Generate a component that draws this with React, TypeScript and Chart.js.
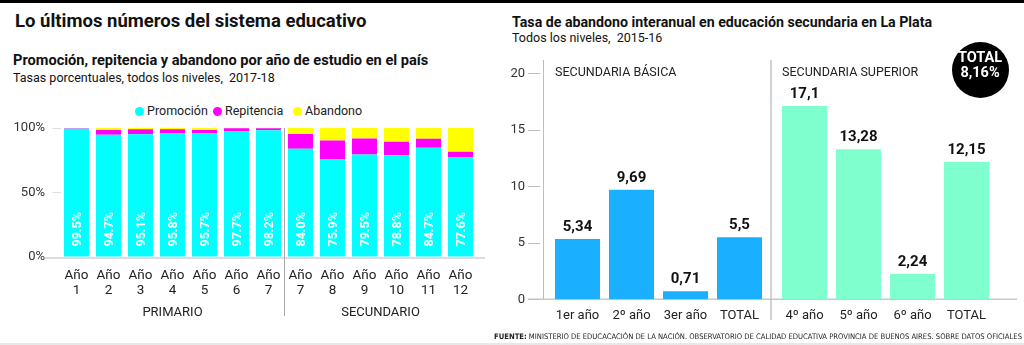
import React, { useEffect, useRef } from 'react';
import { Chart, registerables } from 'chart.js';
Chart.register(...registerables);

const FONT = 'Roboto, "Open Sans", Arial, sans-serif';

// ---- Left chart data ----
const years = ['1', '2', '3', '4', '5', '6', '7', '7', '8', '9', '10', '11', '12'];
const promocion = [99.5, 94.7, 95.1, 95.8, 95.7, 97.7, 98.2, 84.0, 75.9, 79.5, 78.8, 84.7, 77.6];
const repitencia = [0.4, 3.8, 3.9, 3.2, 2.8, 2.2, 1.6, 11.3, 14.4, 12.4, 10.6, 7.0, 4.0];
const abandono = [0.1, 1.5, 1.0, 1.0, 1.5, 0.1, 0.2, 4.7, 9.7, 8.1, 10.6, 8.3, 18.4];
const seriesNames = ['Promoción', 'Repitencia', 'Abandono'];
const seriesColors = ['#00FFFF', '#FF00FF', '#FFFF00'];
const levelGroups = ['PRIMARIO', 'SECUNDARIO'];
const primarioCount = 7;

// ---- Right chart data ----
const basicaLabels = ['1er año', '2º año', '3er año', 'TOTAL'];
const basicaValues = [5.34, 9.69, 0.71, 5.5];
const superiorLabels = ['4º año', '5º año', '6º año', 'TOTAL'];
const superiorValues = [17.1, 13.28, 2.24, 12.15];
const groupTitles = ['SECUNDARIA BÁSICA', 'SECUNDARIA SUPERIOR'];
const totalLines = ['TOTAL', '8,16%'];

const fmtComma = (v: number) => String(v).replace('.', ',');

function LeftChart() {
  const ref = useRef<HTMLCanvasElement>(null);
  useEffect(() => {
    const overlay = {
      id: 'leftOverlay',
      beforeDatasetsDraw(chart: any) {
        const { ctx, scales } = chart;
        const y0 = scales.y.getPixelForValue(0);
        ctx.save();
        ctx.strokeStyle = '#dcdcdc';
        ctx.lineWidth = 2;
        ctx.beginPath();
        ctx.moveTo(45, y0 + 1);
        ctx.lineTo(485, y0 + 1);
        ctx.stroke();
        ctx.restore();
      },
      afterDatasetsDraw(chart: any) {
        const { ctx, scales } = chart;
        const x = scales.x;
        const y = scales.y;
        const meta = chart.getDatasetMeta(0);
        ctx.save();
        ctx.fillStyle = '#ffffff';
        ctx.font = `bold 12.5px ${FONT}`;
        ctx.textAlign = 'left';
        ctx.textBaseline = 'middle';
        meta.data.forEach((el: any, i: number) => {
          ctx.save();
          ctx.translate(el.x + 1, el.base - 10);
          ctx.rotate(-Math.PI / 2);
          ctx.fillText(promocion[i].toFixed(1) + '%', 0, 0);
          ctx.restore();
        });
        const sx = (x.getPixelForValue(primarioCount - 1) + x.getPixelForValue(primarioCount)) / 2;
        ctx.strokeStyle = '#a8a8a8';
        ctx.lineWidth = 1;
        ctx.beginPath();
        ctx.moveTo(sx, y.getPixelForValue(100));
        ctx.lineTo(sx, 316);
        ctx.stroke();
        ctx.fillStyle = '#222';
        ctx.font = `13px ${FONT}`;
        ctx.textAlign = 'center';
        const c1 = (x.getPixelForValue(0) + x.getPixelForValue(primarioCount - 1)) / 2;
        const c2 = (x.getPixelForValue(primarioCount) + x.getPixelForValue(years.length - 1)) / 2;
        ctx.fillText(levelGroups[0], c1, 313);
        ctx.fillText(levelGroups[1], c2, 313);
        ctx.restore();
      },
    };
    const chart = new Chart(ref.current as HTMLCanvasElement, {
      type: 'bar',
      data: {
        labels: years.map((y) => ['Año', y]),
        datasets: [promocion, repitencia, abandono].map((d, i) => ({
          label: seriesNames[i],
          data: d,
          backgroundColor: seriesColors[i],
          borderWidth: 0,
          barPercentage: 25 / 32,
          categoryPercentage: 1,
        })),
      },
      options: {
        animation: false,
        responsive: false,
        maintainAspectRatio: false,
        layout: { padding: { left: 0, right: 13.5, top: 128, bottom: 28 } },
        plugins: { legend: { display: false }, tooltip: { enabled: false } },
        scales: {
          x: {
            stacked: true,
            grid: { display: false, drawTicks: false },
            border: { display: false },
            ticks: {
              font: { family: FONT, size: 13.5, lineHeight: 1.1 },
              color: '#222',
              padding: 11,
              maxRotation: 0,
              autoSkip: false,
            },
            afterFit: (s: any) => {
              s.height = 60;
            },
          },
          y: {
            stacked: true,
            min: 0,
            max: 100,
            ticks: {
              stepSize: 50,
              callback: (v: any) => v + '%',
              font: { family: FONT, size: 13 },
              color: '#333',
              padding: 7.5,
            },
            grid: { display: true, drawOnChartArea: false, tickLength: 8, color: '#dddddd' },
            border: { display: false },
            afterFit: (s: any) => {
              s.width = 60.5;
            },
          },
        },
      },
      plugins: [overlay],
    } as any);
    return () => chart.destroy();
  }, []);
  return <canvas ref={ref} width={490} height={345} style={{ position: 'absolute', left: 0, top: 0 }} />;
}

function RightChart(props: {
  labels: string[];
  values: number[];
  color: string;
  first: boolean;
  title: string;
  left: number;
  width: number;
}) {
  const ref = useRef<HTMLCanvasElement>(null);
  const { labels, values, color, first, title, left, width } = props;
  useEffect(() => {
    const overlay = {
      id: 'rightOverlay',
      beforeDatasetsDraw(chart: any) {
        const { ctx, scales, chartArea } = chart;
        const y = scales.y;
        const y0 = y.getPixelForValue(0);
        ctx.save();
        ctx.strokeStyle = '#c8c8c8';
        ctx.lineWidth = 1.5;
        ctx.beginPath();
        if (first) {
          ctx.moveTo(38, y0);
          ctx.lineTo(width, y0);
        } else {
          ctx.moveTo(0, y0);
          ctx.lineTo(247, y0);
        }
        ctx.stroke();
        if (first) {
          ctx.strokeStyle = '#bdbdbd';
          ctx.lineWidth = 1;
          ctx.beginPath();
          ctx.moveTo(53.5, 60);
          ctx.lineTo(53.5, y0);
          ctx.stroke();
          y.ticks.forEach((t: any) => {
            const py = Math.round(y.getPixelForValue(t.value)) + 0.5;
            ctx.beginPath();
            ctx.moveTo(38, py);
            ctx.lineTo(50, py);
            ctx.stroke();
          });
        } else {
          ctx.strokeStyle = '#b4b4b4';
          ctx.lineWidth = 1.2;
          ctx.beginPath();
          ctx.moveTo(chartArea.left - 6.5, 60);
          ctx.lineTo(chartArea.left - 6.5, 320);
          ctx.stroke();
        }
        ctx.fillStyle = '#222';
        ctx.font = `12.5px ${FONT}`;
        ctx.textAlign = 'left';
        ctx.textBaseline = 'middle';
        ctx.fillText(title, chartArea.left + 4.5, 73);
        ctx.restore();
      },
      afterDatasetsDraw(chart: any) {
        const { ctx } = chart;
        const meta = chart.getDatasetMeta(0);
        ctx.save();
        ctx.fillStyle = '#111';
        ctx.font = `bold 15px ${FONT}`;
        ctx.textAlign = 'center';
        ctx.textBaseline = 'alphabetic';
        meta.data.forEach((el: any, i: number) => {
          ctx.fillText(fmtComma(values[i]), el.x, el.y - 8);
        });
        ctx.restore();
      },
    };
    const chart = new Chart(ref.current as HTMLCanvasElement, {
      type: 'bar',
      data: {
        labels,
        datasets: [
          {
            data: values,
            backgroundColor: color,
            borderWidth: 0,
            barPercentage: 45 / 54,
            categoryPercentage: 1,
          },
        ],
      },
      options: {
        animation: false,
        responsive: false,
        maintainAspectRatio: false,
        layout: {
          padding: first
            ? { left: 0, right: 3.5, top: 73.3, bottom: 15.7 }
            : { left: 7.5, right: 30.5, top: 73.3, bottom: 15.7 },
        },
        plugins: { legend: { display: false }, tooltip: { enabled: false } },
        scales: {
          x: {
            grid: { display: false, drawTicks: false },
            border: { display: false },
            ticks: { font: { family: FONT, size: 13 }, color: '#222', padding: 9, maxRotation: 0, autoSkip: false },
            afterFit: (s: any) => {
              s.height = 30;
            },
          },
          y: {
            display: first,
            min: 0,
            max: 20,
            ticks: { stepSize: 5, font: { family: FONT, size: 13 }, color: '#333', padding: 25.5 },
            grid: { display: false, drawTicks: false },
            border: { display: false },
            afterFit: (s: any) => {
              s.width = first ? 60.5 : 0;
            },
          },
        },
      },
      plugins: [overlay],
    } as any);
    return () => chart.destroy();
  }, []);
  return <canvas ref={ref} width={width} height={345} style={{ position: 'absolute', left, top: 0 }} />;
}

function T(props: { x: number; y: number; size: number; weight?: number; color?: string; children: any; family?: string }) {
  const { x, y, size, weight = 400, color = '#111', children, family = FONT } = props;
  return (
    <div
      style={{
        position: 'absolute',
        left: x,
        top: y - 0.49 * size,
        fontSize: size,
        lineHeight: 1,
        fontWeight: weight,
        color,
        fontFamily: family,
        whiteSpace: 'nowrap',
      }}
    >
      {children}
    </div>
  );
}

export default function App() {
  const legendPos = [
    { dot: 139.5, text: 147 },
    { dot: 217.5, text: 225 },
    { dot: 297.5, text: 305 },
  ];
  return (
    <div style={{ position: 'absolute', left: 0, top: 0, width: 1024, height: 345, background: '#fff', overflow: 'hidden' }}>
      <div style={{ position: 'absolute', left: 0, top: 0, width: 1024, height: 3, background: '#000' }} />
      <T x={15} y={21.5} size={18.5} weight={700}>Lo últimos números del sistema educativo</T>
      <T x={13} y={60} size={14.6} weight={700}>Promoción, repitencia y abandono por año de estudio en el país</T>
      <T x={13} y={78} size={12.5}>Tasas porcentuales, todos los niveles,&nbsp; 2017-18</T>
      {seriesNames.map((n, i) => (
        <React.Fragment key={n}>
          <div
            style={{
              position: 'absolute',
              left: legendPos[i].dot - 4.5,
              top: 111 - 4.5,
              width: 9,
              height: 9,
              borderRadius: '50%',
              background: seriesColors[i],
            }}
          />
          <T x={legendPos[i].text} y={111} size={12.5} color="#222">{n}</T>
        </React.Fragment>
      ))}
      <T x={512} y={21.5} size={14.2} weight={700}>Tasa de abandono interanual en educación secundaria en La Plata</T>
      <T x={512} y={38.5} size={12.5}>Todos los niveles,&nbsp; 2015-16</T>
      <LeftChart />
      <RightChart labels={basicaLabels} values={basicaValues} color="#1AAFFF" first={true} title={groupTitles[0]} left={490} width={280} />
      <RightChart labels={superiorLabels} values={superiorValues} color="#7FFFCE" first={false} title={groupTitles[1]} left={770} width={254} />
      <div
        style={{
          position: 'absolute',
          left: 951.5,
          top: 41.5,
          width: 57,
          height: 56,
          borderRadius: '50%',
          background: '#000',
        }}
      />
      <div style={{ position: 'absolute', left: 951.5, width: 57, top: 50, textAlign: 'center', color: '#fff', fontFamily: FONT, fontWeight: 700, fontSize: 14.5, lineHeight: '15px' }}>
        {totalLines[0]}
        <br />
        {totalLines[1]}
      </div>
      <div
        style={{
          position: 'absolute',
          right: 2,
          top: 332,
          fontSize: 7.6,
          lineHeight: '9px',
          fontFamily: '"Liberation Sans Narrow", "DejaVu Sans Condensed", Arial, sans-serif',
          color: '#222',
          whiteSpace: 'nowrap',
        }}
      >
        <b>FUENTE:</b> MINISTERIO DE EDUCACACIÓN DE LA NACIÓN. OBSERVATORIO DE CALIDAD EDUCATIVA PROVINCIA DE BUENOS AIRES. SOBRE DATOS OFICIALES
      </div>
      <div style={{ position: 'absolute', left: 0, top: 343, width: 1024, height: 2, background: '#e8e8e8' }} />
    </div>
  );
}
